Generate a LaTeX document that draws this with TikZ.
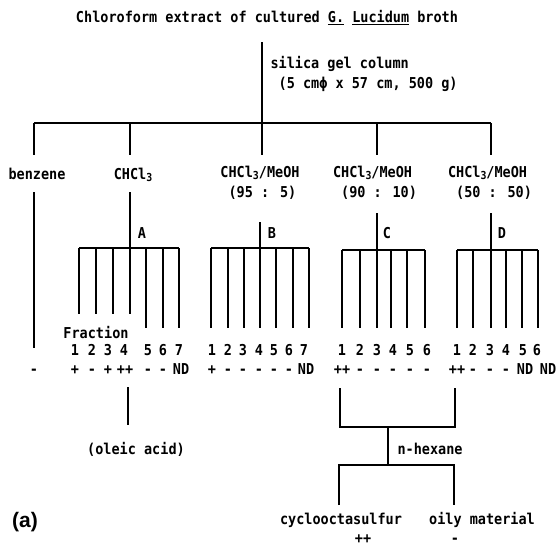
\documentclass[tikz,border=0pt]{standalone}
\usepackage{fontspec}
\newfontfamily\gth{DejaVu Sans Mono}[FakeStretch=0.9]
\newfontfamily\tagfont{Liberation Sans}
\newcommand{\lbl}{\gth\bfseries\fontsize{15}{20}\selectfont}
\newcommand{\three}{\raisebox{-2pt}{\fontsize{11}{11}\selectfont 3}}
\newcommand{\chcl}{CHCl\three}

\begin{document}
\begin{tikzpicture}[
  x=1pt,y=-1pt,line width=1.2pt,
  t/.style={font=\lbl,inner sep=0pt,anchor=base},
  tl/.style={t,anchor=north,align=left}
]
  \useasboundingbox (0,0) rectangle (560,546);
  \node[t,anchor=center] (title) at (267,18) {Chloroform extract of cultured \underline{G.} \underline{Lucidum} broth};
  \node[tl,anchor=north west] (col) at (270,56) {silica gel column\\~(5 cm\char"03D5\ x 57 cm, 500 g)};
  \coordinate (s0) at (262,42);
  \coordinate (b1) at (34,123);
  \coordinate (b2) at (130,123);
  \coordinate (b3) at (262,123);
  \coordinate (b4) at (377,123);
  \coordinate (b5) at (491,123);
  \coordinate (lv) at (0,155);
  \draw (s0)--(b3); \draw (b1)--(b5);
  \draw (b1)--(b1 |- lv); \draw (b2)--(b2 |- lv); \draw (b3)--(b3 |- lv);
  \draw (b4)--(b4 |- lv); \draw (b5)--(b5 |- lv);

  \node[t] (benz) at (37,179) {benzene};
  \node[t] (chcl) at (133,179) {\chcl};
  \node[tl] (m95) at (260,166) {\chcl/MeOH\\~(95 : 5)};
  \node[tl] (m90) at (375,166) {\chcl/MeOH\\~(90 : 10)};
  \node[tl] (m50) at (490,166) {\chcl/MeOH\\~(50 : 50)};

  \coordinate (bz0) at (34,192);
  \coordinate (bz1) at (34,348);
  \draw (bz0)--(bz1);
  \node[t] (pz) at (34,374) {-};

  \begin{scope}
    \coordinate (a0) at (130,192);
    \coordinate (ta1) at (79,248); \coordinate (ta2) at (96,248);
    \coordinate (ta3) at (113,248); \coordinate (ta4) at (130,248);
    \coordinate (ta5) at (146,248); \coordinate (ta6) at (163,248);
    \coordinate (ta7) at (179,248);
    \coordinate (la) at (0,314); \coordinate (lb) at (0,328);
    \draw (a0)--(ta4); \draw (ta1)--(ta7);
    \draw (ta1)--(ta1 |- la); \draw (ta2)--(ta2 |- la); \draw (ta3)--(ta3 |- la);
    \draw (ta4)--(ta4 |- la); \draw (ta5)--(ta5 |- lb); \draw (ta6)--(ta6 |- lb);
    \draw (ta7)--(ta7 |- lb);
    \node[t] (ga) at (142,238) {A};
    \node[t] (frac) at (96,338) {Fraction};
    \node[t] (na1) at (75,355) {1}; \node[t] (na2) at (92,355) {2};
    \node[t] (na3) at (108,355) {3}; \node[t] (na4) at (124,355) {4};
    \node[t] (na5) at (148,355) {5}; \node[t] (na6) at (163,355) {6};
    \node[t] (na7) at (179,355) {7};
    \node[t] (pa1) at (75,374) {+}; \node[t] (pa2) at (92,374) {-};
    \node[t] (pa3) at (108,374) {+}; \node[t] (pa4) at (125,374) {++};
    \node[t] (pa5) at (148,374) {-}; \node[t] (pa6) at (163,374) {-};
    \node[t] (pa7) at (181,374) {ND};
  \end{scope}

  \begin{scope}
    \coordinate (bb0) at (260,222);
    \coordinate (tb1) at (211,248); \coordinate (tb2) at (228,248);
    \coordinate (tb3) at (244,248); \coordinate (tb4) at (260,248);
    \coordinate (tb5) at (276,248); \coordinate (tb6) at (293,248);
    \coordinate (tb7) at (309,248);
    \draw (bb0)--(tb4); \draw (tb1)--(tb7);
    \draw (tb1)--(tb1 |- lb); \draw (tb2)--(tb2 |- lb); \draw (tb3)--(tb3 |- lb);
    \draw (tb4)--(tb4 |- lb); \draw (tb5)--(tb5 |- lb); \draw (tb6)--(tb6 |- lb);
    \draw (tb7)--(tb7 |- lb);
    \node[t] (gb) at (272,238) {B};
    \node[t] (nb1) at (212,355) {1}; \node[t] (nb2) at (228,355) {2};
    \node[t] (nb3) at (243,355) {3}; \node[t] (nb4) at (259,355) {4};
    \node[t] (nb5) at (274,355) {5}; \node[t] (nb6) at (289,355) {6};
    \node[t] (nb7) at (304,355) {7};
    \node[t] (pb1) at (212,374) {+}; \node[t] (pb2) at (228,374) {-};
    \node[t] (pb3) at (243,374) {-}; \node[t] (pb4) at (259,374) {-};
    \node[t] (pb5) at (274,374) {-}; \node[t] (pb6) at (289,374) {-};
    \node[t] (pb7) at (306,374) {ND};
  \end{scope}

  \begin{scope}
    \coordinate (c0) at (377,213);
    \coordinate (tc1) at (342,250); \coordinate (tc2) at (360,250);
    \coordinate (tc3) at (377,250); \coordinate (tc4) at (391,250);
    \coordinate (tc5) at (407,250); \coordinate (tc6) at (425,250);
    \draw (c0)--(tc3); \draw (tc1)--(tc6);
    \draw (tc1)--(tc1 |- lb); \draw (tc2)--(tc2 |- lb); \draw (tc3)--(tc3 |- lb);
    \draw (tc4)--(tc4 |- lb); \draw (tc5)--(tc5 |- lb); \draw (tc6)--(tc6 |- lb);
    \node[t] (gc) at (387,238) {C};
    \node[t] (nc1) at (342,355) {1}; \node[t] (nc2) at (360,355) {2};
    \node[t] (nc3) at (377,355) {3}; \node[t] (nc4) at (393,355) {4};
    \node[t] (nc5) at (410,355) {5}; \node[t] (nc6) at (427,355) {6};
    \node[t] (pc1) at (342,374) {++}; \node[t] (pc2) at (360,374) {-};
    \node[t] (pc3) at (377,374) {-}; \node[t] (pc4) at (393,374) {-};
    \node[t] (pc5) at (410,374) {-}; \node[t] (pc6) at (427,374) {-};
  \end{scope}

  \begin{scope}
    \coordinate (d0) at (491,213);
    \coordinate (td1) at (457,250); \coordinate (td2) at (473,250);
    \coordinate (td3) at (491,250); \coordinate (td4) at (506,250);
    \coordinate (td5) at (522,250); \coordinate (td6) at (538,250);
    \draw (d0)--(td3); \draw (td1)--(td6);
    \draw (td1)--(td1 |- lb); \draw (td2)--(td2 |- lb); \draw (td3)--(td3 |- lb);
    \draw (td4)--(td4 |- lb); \draw (td5)--(td5 |- lb); \draw (td6)--(td6 |- lb);
    \node[t] (gd) at (502,238) {D};
    \node[t] (nd1) at (457,355) {1}; \node[t] (nd2) at (473,355) {2};
    \node[t] (nd3) at (490,355) {3}; \node[t] (nd4) at (506,355) {4};
    \node[t] (nd5) at (523,355) {5}; \node[t] (nd6) at (537,355) {6};
    \node[t] (pd1) at (457,374) {++}; \node[t] (pd2) at (473,374) {-};
    \node[t] (pd3) at (490,374) {-}; \node[t] (pd4) at (506,374) {-};
    \node[t] (pd5) at (525,374) {ND}; \node[t] (pd6) at (548,374) {ND};
  \end{scope}

  \coordinate (ol0) at (128,387); \coordinate (ol1) at (128,425);
  \draw (ol0)--(ol1);
  \node[t] (oleic) at (136,454) {(oleic acid)};

  \coordinate (h1) at (340,388); \coordinate (h2) at (340,427);
  \coordinate (h3) at (455,427); \coordinate (h4) at (455,388);
  \coordinate (h5) at (388,427); \coordinate (h6) at (388,465);
  \coordinate (h7) at (339,465); \coordinate (h8) at (454,465);
  \coordinate (h9) at (339,505); \coordinate (h10) at (454,505);
  \draw (h1)--(h2)--(h3)--(h4); \draw (h5)--(h6);
  \draw (h9)--(h7)--(h8)--(h10);
  \node[t,anchor=base west] (hex) at (397,454) {n-hexane};
  \node[t] (cyc) at (341,524) {cyclooctasulfur};
  \node[t] (oily) at (482,524) {oily material};
  \node[t] (pcy) at (363,543) {++};
  \node[t] (poi) at (455,543) {-};

  \node[font=\tagfont\bfseries\fontsize{21}{21}\selectfont,inner sep=0pt] (tag) at (25,522) {(a)};
\end{tikzpicture}
\end{document}
